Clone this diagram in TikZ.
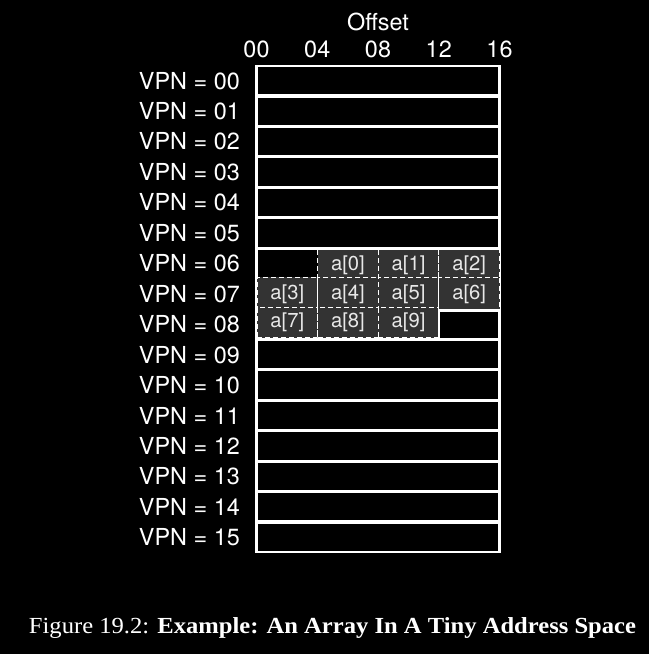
\documentclass[tikz,border=0pt]{standalone}
\usepackage{fontspec}
\usepackage{graphicx}
\setsansfont{TeX Gyre Heros}
\newfontfamily\capfont{Liberation Serif}
\definecolor{cellgray}{HTML}{333333}
\definecolor{celltxt}{HTML}{E8E8E8}
\begin{document}
\begin{tikzpicture}[x=1pt,y=-1pt,
  lbl/.style={font=\sffamily\fontsize{23.4}{28}\selectfont, text=white, inner sep=0pt},
  rowbox/.style={draw=white, line width=2.2pt, inner sep=0pt, outer sep=0pt, minimum width=243pt, minimum height=29.4375pt},
  rowline/.style={draw=white, line width=2.2pt},
  cellbox/.style={fill=cellgray, draw=white, line width=1pt, dash pattern=on 5pt off 3pt, inner sep=0pt, outer sep=0pt, minimum width=60.625pt, text=celltxt, font=\sffamily\fontsize{20.2}{24}\selectfont}
]
\fill[black] (0,0) rectangle (649,654);
\useasboundingbox (0,0) rectangle (649,654);

% header
\node[lbl, anchor=base] (offset) at (378,30) {Offset};
\foreach \t [count=\k from 0] in {00,04,08,12,16} {
  \node[lbl, anchor=base] (off\k) at (256.5+60.75*\k,57) {\t};
}

% rows
\foreach \i in {0,...,15} {
  \pgfmathsetmacro{\yc}{65.5+30.4375*(\i+0.5)}
  \node[rowbox] (row\i) at (378,\yc) {};
  \node[lbl, anchor=east] (vpn\i) at (240,\yc) {VPN = \ifnum\i<10 0\fi\i};
}

% array cells: row, col, index
\foreach \r/\c/\k in {6/1/0,6/2/1,6/3/2,7/0/3,7/1/4,7/2/5,7/3/6,8/0/7,8/1/8,8/2/9} {
  \pgfmathsetmacro{\xc}{257+60.625*(\c+0.5)}
  \pgfmathsetmacro{\yc}{65.5+30.4375*(\r+0.5)+(\r==6?1.5:0)+(\r==8?-1.5:0)}
  \pgfmathsetmacro{\hh}{(\r==7?33.4375:30.4375)}
  \node[cellbox, minimum height=\hh pt] (a\k) at (\xc,\yc) {a[\k]};
}

% solid outline of the empty slot in row 08
\coordinate (e1) at (439,339);
\coordinate (e2) at (439,310.5);
\coordinate (e3) at (499.6,310.5);
\draw[rowline] (e1) -- (e2) -- (e3);

% caption
\node[font=\capfont\fontsize{23}{28}\selectfont, text=white, anchor=base, inner sep=0pt] (cap) at (332.5,633)
  {\resizebox{607pt}{\height}{Figure 19.2: \textbf{Example: An Array In A Tiny Address Space}}};
\end{tikzpicture}
\end{document}
